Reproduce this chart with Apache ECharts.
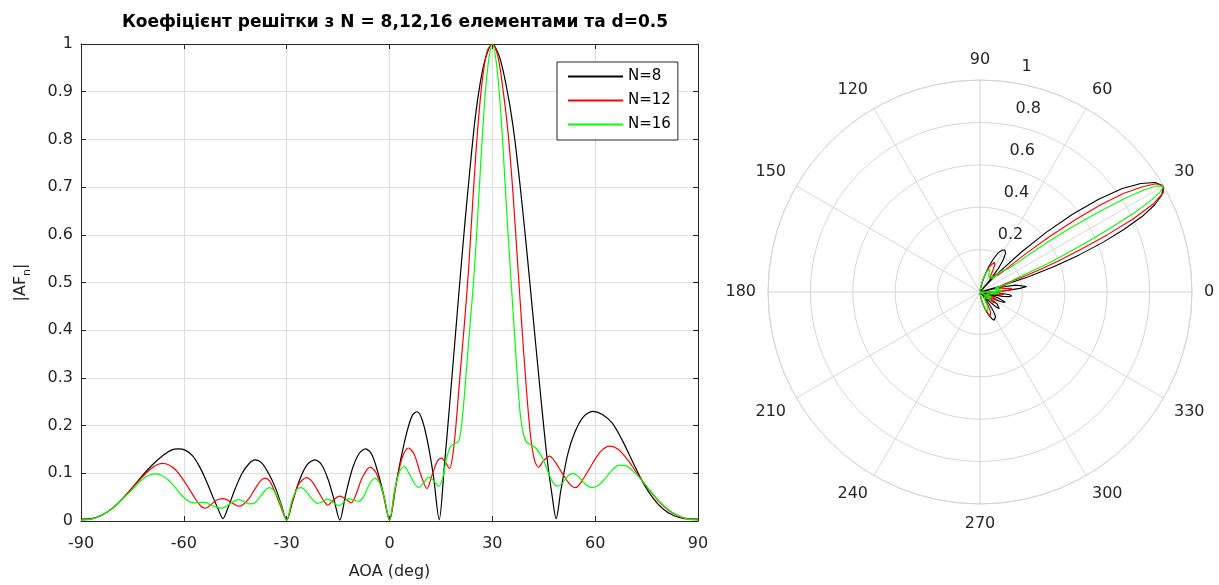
<!DOCTYPE html>
<html>
<head>
<meta charset="utf-8">
<script src="https://cdn.jsdelivr.net/npm/echarts@6/dist/echarts.min.js"></script>
<style>
  html, body { margin: 0; padding: 0; background: #fff; }
  #chart { width: 1219px; height: 585px; }
</style>
</head>
<body>
<div id="chart"></div>
<script>
// values (AOA in degrees, |AF| normalised)
const aoa8 = [-90,-87,-84,-81,-78,-75,-72,-69,-66,-63.5,-61.5,-59.5,-57.5,-55.5,-53.5,-51.5,-50,-48.6,-47,-45,-43,-41,-39.2,-37.3,-35.3,-33.3,-31.6,-30,-28.3,-26.3,-24,-21.8,-19.8,-17.8,-16.2,-14.5,-12.8,-10.8,-8.8,-7,-5.2,-3.3,-1.6,0,1.6,3.3,5.2,6.7,8,9.4,11,12.8,14.5,16,17.5,19,20.5,22,23.5,25,26.5,28,30,32,34,36,38,40,42,44,46,47.5,48.6,50,52,54,56.5,59.3,62,65,68,71,74,77,80,83,86,90];
const af8 = [.004,.005,.012,.026,.046,.07,.096,.119,.138,.149,.151,.148,.137,.115,.085,.05,.025,.005,.03,.068,.1,.12,.128,.122,.1,.07,.035,.002,.04,.085,.118,.128,.118,.085,.045,.002,.055,.11,.142,.151,.14,.1,.052,.002,.065,.13,.19,.222,.229,.215,.17,.095,.003,.115,.24,.37,.5,.625,.74,.845,.92,.97,1,.975,.915,.83,.71,.57,.42,.27,.13,.05,.005,.065,.14,.185,.218,.23,.224,.205,.168,.123,.08,.047,.024,.011,.005,.004];

const aoa12 = [-90,-87,-84,-81,-78,-75,-72,-69.5,-67.5,-66,-64.5,-62.5,-60.5,-58.5,-56.5,-55,-54,-53,-51.5,-50,-48.5,-47,-45.5,-44,-42.8,-41,-39,-37.5,-36.3,-35,-33.5,-32,-30,-28.3,-26.5,-24.2,-22.5,-20.5,-19,-18,-16.5,-14.5,-12.8,-11.2,-9.8,-8,-5.7,-4,-2,0,2,3.8,5.5,7.2,9,10.9,12.6,14,15.2,16.4,17.5,18.5,19.5,20.5,21.7,23,24.2,25.5,27,28.5,30,31.6,33,34.5,35.9,37.2,38.5,39.9,41.2,42.4,43.5,45,46.7,48.4,50.4,52.5,54.3,56.5,59,61.5,64.2,66.8,69.5,72.5,75.5,78.5,81.5,84.5,87.5,90];
const af12 = [.003,.004,.012,.026,.046,.07,.093,.11,.119,.121,.118,.108,.09,.068,.045,.031,.027,.029,.038,.045,.047,.043,.036,.031,.034,.047,.07,.085,.09,.084,.062,.035,.002,.042,.077,.091,.082,.058,.04,.033,.043,.052,.046,.038,.055,.09,.113,.102,.06,.002,.08,.135,.153,.14,.1,.068,.1,.126,.132,.122,.11,.14,.21,.3,.4,.52,.66,.8,.92,.985,1,.975,.91,.82,.7,.56,.42,.28,.175,.125,.113,.127,.136,.123,.1,.078,.07,.088,.118,.145,.157,.15,.128,.097,.068,.042,.022,.01,.004,.003];

const aoa16 = [-90,-87,-84,-81,-78,-75,-72.5,-70.5,-68.5,-66.5,-64.5,-62.5,-60.5,-58.8,-57,-55.2,-53.8,-52.3,-50.5,-49,-47.5,-45.8,-44,-42.3,-40.8,-39.3,-37.8,-36.3,-35,-33.6,-32,-30,-28.5,-27,-25.8,-24.3,-22.7,-21,-19.5,-18.1,-16.6,-14.8,-13.3,-12,-10.5,-9,-7.5,-6,-4.3,-2.8,-1.4,0,1.5,3,4.3,5.7,7,8.5,10,11.4,12.8,14.3,15.5,16.6,17.8,19,20.2,21,21.8,22.7,23.6,24.5,25.4,26.3,27.2,28.1,29,30,31,31.9,32.8,33.7,34.6,35.5,36.4,37.3,38.2,39,40,41.4,42.8,44.5,46,47.5,49,50.5,52,53.4,55,57,59,61,63,65,67,69,71,73,75,78,81,84,87,90];
const af16 = [.002,.004,.012,.025,.045,.066,.085,.095,.099,.096,.086,.07,.053,.042,.038,.039,.039,.034,.029,.027,.031,.04,.045,.04,.036,.038,.05,.064,.07,.062,.04,.002,.042,.066,.07,.062,.047,.037,.041,.046,.04,.032,.04,.047,.044,.041,.052,.075,.09,.078,.045,.002,.065,.105,.114,.1,.082,.07,.08,.092,.085,.073,.09,.13,.156,.162,.168,.2,.26,.34,.42,.5,.6,.71,.82,.91,.97,1,.97,.91,.82,.71,.6,.5,.4,.3,.22,.185,.165,.16,.152,.134,.108,.083,.073,.08,.094,.1,.094,.078,.07,.075,.09,.107,.117,.116,.105,.09,.073,.047,.026,.012,.004,.002];

const names = ['N=8', 'N=12', 'N=16'];
const colors = ['#000000', '#ff0000', '#00ff00'];
const titleText = 'Коефіцієнт решітки з N = 8,12,16 елементами та d=0.5';

const font = 'DejaVu Sans';
const ink = '#262626';
const gridGray = '#dedede';
const polarGray = '#d6d6d6';

const sets = [[aoa8, af8], [aoa12, af12], [aoa16, af16]];

const chart = echarts.init(document.getElementById('chart'));

const series = [];
sets.forEach(([aoa, af], i) => {
    series.push({
        name: names[i],
        type: 'line',
        xAxisIndex: 0,
        yAxisIndex: 0,
        data: aoa.map((a, k) => [a, af[k]]),
        symbol: 'none',
        smooth: 0.3,
        lineStyle: { color: colors[i], width: 1.2 },
        itemStyle: { color: colors[i] }
    });
});
sets.forEach(([aoa, af], i) => {
    series.push({
        name: names[i],
        type: 'line',
        coordinateSystem: 'polar',
        polarIndex: 0,
        data: af.map((v, k) => [v, (aoa[k] + 360) % 360]),
        symbol: 'none',
        lineStyle: { color: colors[i], width: 1.1 },
        itemStyle: { color: colors[i] }
    });
});

const frameAxis = {
    axisLine: { onZero: false, lineStyle: { color: ink } },
    axisTick: { inside: true, length: 5, lineStyle: { color: ink } }
};

const option = {
    animation: false,
    textStyle: { fontFamily: font },
    title: {
        text: titleText,
        left: 390,
        top: 9,
        textAlign: 'center',
        textStyle: { fontFamily: font, fontSize: 17, fontWeight: 'bold', color: '#000' }
    },
    legend: {
        data: names,
        orient: 'vertical',
        left: 557,
        top: 62,
        padding: [7, 7, 8, 11],
        itemGap: 9,
        itemWidth: 55,
        itemHeight: 2,
        icon: 'rect',
        backgroundColor: '#fff',
        borderColor: ink,
        borderWidth: 1,
        textStyle: { fontFamily: font, fontSize: 15, color: '#000' }
    },
    grid: { left: 81, right: 521, top: 44, bottom: 58 },
    xAxis: [
        Object.assign({
            type: 'value', min: -90, max: 90, interval: 30, position: 'bottom',
            axisLabel: { color: ink, fontSize: 16, margin: 15 },
            splitLine: { lineStyle: { color: gridGray } },
            name: 'AOA (deg)', nameLocation: 'middle', nameGap: 43,
            nameTextStyle: { color: ink, fontSize: 16 }
        }, frameAxis),
        Object.assign({
            type: 'value', min: -90, max: 90, interval: 30, position: 'top',
            axisLabel: { show: false },
            splitLine: { show: false }
        }, frameAxis)
    ],
    yAxis: [
        Object.assign({
            type: 'value', min: 0, max: 1, interval: 0.1, position: 'left',
            axisLabel: { color: ink, fontSize: 16, margin: 8 },
            splitLine: { lineStyle: { color: gridGray } },
            name: '{m||AF}{sub|n}{m||}', nameLocation: 'middle', nameGap: 48, nameRotate: 90,
            nameTextStyle: {
                color: ink,
                rich: {
                    m: { fontSize: 16, lineHeight: 24, verticalAlign: 'middle', color: ink, fontFamily: font },
                    sub: { fontSize: 11, lineHeight: 11, verticalAlign: 'bottom', color: ink, fontFamily: font }
                }
            }
        }, frameAxis),
        Object.assign({
            type: 'value', min: 0, max: 1, interval: 0.1, position: 'right',
            axisLabel: { show: false },
            splitLine: { show: false }
        }, frameAxis)
    ],
    polar: [
        { center: [980, 292], radius: 212 },
        { center: [980, 292], radius: 212 }
    ],
    angleAxis: [
        {
            polarIndex: 0, type: 'value', min: 0, max: 360, interval: 30,
            startAngle: 0, clockwise: false,
            axisLine: { lineStyle: { color: polarGray } },
            axisTick: { show: false },
            axisLabel: { color: ink, fontSize: 16, margin: 12 },
            splitLine: { lineStyle: { color: polarGray } }
        },
        {
            polarIndex: 1, type: 'value', min: 0, max: 360,
            startAngle: 82, clockwise: false, show: false
        }
    ],
    radiusAxis: [
        {
            polarIndex: 0, type: 'value', min: 0, max: 1, interval: 0.2,
            axisLine: { show: false },
            axisTick: { show: false },
            axisLabel: { show: false },
            splitLine: { lineStyle: { color: polarGray } }
        },
        {
            polarIndex: 1, type: 'value', min: 0, max: 1, interval: 0.2,
            axisLine: { show: false },
            axisTick: { show: false },
            splitLine: { show: false },
            axisLabel: {
                color: ink, fontSize: 16, margin: -12,
                align: 'left', verticalAlign: 'bottom', padding: [0, 0, 9, 0],
                formatter: v => (v === 0 ? '' : String(v))
            }
        }
    ],
    series: series
};

chart.setOption(option);
</script>
</body>
</html>
